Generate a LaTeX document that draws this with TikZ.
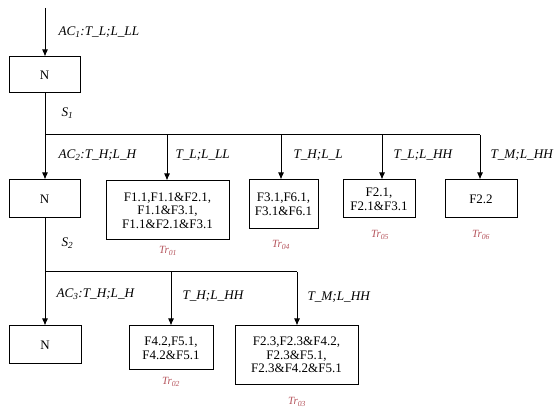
\documentclass[tikz,border=0pt]{standalone}
\usepackage{fontspec}
\setmainfont{Liberation Serif}
\usetikzlibrary{arrows.meta}
\definecolor{trred}{HTML}{B5545C}
\begin{document}
\begin{tikzpicture}[x=1pt,y=-1pt,
  line width=1pt,
  box/.style={draw, inner sep=0pt, align=center, font=\fontsize{13}{13.6}\selectfont},
  lab/.style={anchor=west, inner sep=0pt, font=\fontsize{13.2}{13}\selectfont\itshape},
  trlab/.style={inner sep=0pt, text=trred, font=\fontsize{11}{12}\selectfont\itshape},
  arr/.style={-{Latex[length=7pt,width=6pt]}}]
\useasboundingbox (0,0) rectangle (554,411);
% boxes
\node[box, minimum width=71pt, minimum height=36pt] (N1) at (44.5,75) {N};
\node[box, minimum width=71pt, minimum height=38pt] (N2) at (44.5,199) {N};
\node[box, minimum width=72pt, minimum height=38pt] (N3) at (45,345) {N};
\node[box, minimum width=123pt, minimum height=59pt] (F1) at (167.5,210.5) {F1.1,F1.1\&F2.1,\\F1.1\&F3.1,\\F1.1\&F2.1\&F3.1};
\node[box, minimum width=69pt, minimum height=49pt] (F34) at (283.5,204.5) {F3.1,F6.1,\\F3.1\&F6.1};
\node[box, minimum width=72pt, minimum height=38pt] (F21) at (379,199) {F2.1,\\F2.1\&F3.1};
\node[box, minimum width=72pt, minimum height=38pt] (F22) at (481,199) {F2.2};
\node[box, minimum width=84pt, minimum height=44pt] (F42) at (171,348) {F4.2,F5.1,\\F4.2\&F5.1};
\node[box, minimum width=123pt, minimum height=58pt] (F23) at (296.5,355) {F2.3,F2.3\&F4.2,\\F2.3\&F5.1,\\F2.3\&F4.2\&F5.1};
% coordinates
\coordinate (top) at (45,8);
\coordinate (b1a) at (45,135);
\coordinate (b1b) at (167,135);
\coordinate (b1c) at (281,135);
\coordinate (b1d) at (382,135);
\coordinate (b1e) at (480,135);
\coordinate (b2a) at (45,272);
\coordinate (b2b) at (171,272);
\coordinate (b2c) at (297,272);
% connectors
\draw[arr] (top) -- (top |- N1.north);
\draw (b1a |- N1.south) -- (b1a) -- (b1e);
\draw[arr] (b1a) -- (b1a |- N2.north);
\draw[arr] (b1b) -- (b1b |- F1.north);
\draw[arr] (b1c) -- (b1c |- F34.north);
\draw[arr] (b1d) -- (b1d |- F21.north);
\draw[arr] (b1e) -- (b1e |- F22.north);
\draw (b2a |- N2.south) -- (b2a) -- (b2c);
\draw[arr] (b2a) -- (b2a |- N3.north);
\draw[arr] (b2b) -- (b2b |- F42.north);
\draw[arr] (b2c) -- (b2c |- F23.north);
% labels
\node[lab] (l1) at (58,32) {AC\textsubscript{1}:T\_L;L\_LL};
\node[lab] (s1) at (61,113) {S\textsubscript{1}};
\node[lab] (l2) at (58,155) {AC\textsubscript{2}:T\_H;L\_H};
\node[lab] (l3) at (175,155) {T\_L;L\_LL};
\node[lab] (l4) at (293,155) {T\_H;L\_L};
\node[lab] (l5) at (393,155) {T\_L;L\_HH};
\node[lab] (l6) at (490,155) {T\_M;L\_HH};
\node[lab] (s2) at (61,243) {S\textsubscript{2}};
\node[lab] (l7) at (56,294) {AC\textsubscript{3}:T\_H;L\_H};
\node[lab] (l8) at (182,296) {T\_H;L\_HH};
\node[lab] (l9) at (307,297) {T\_M;L\_HH};
% Tr labels
\node[trlab] (t1) at (168,251) {Tr\textsubscript{01}};
\node[trlab] (t4) at (281,245) {Tr\textsubscript{04}};
\node[trlab] (t5) at (380,235) {Tr\textsubscript{05}};
\node[trlab] (t6) at (481,235) {Tr\textsubscript{06}};
\node[trlab] (t2) at (171,382) {Tr\textsubscript{02}};
\node[trlab] (t3) at (297,402) {Tr\textsubscript{03}};
\end{tikzpicture}
\end{document}
